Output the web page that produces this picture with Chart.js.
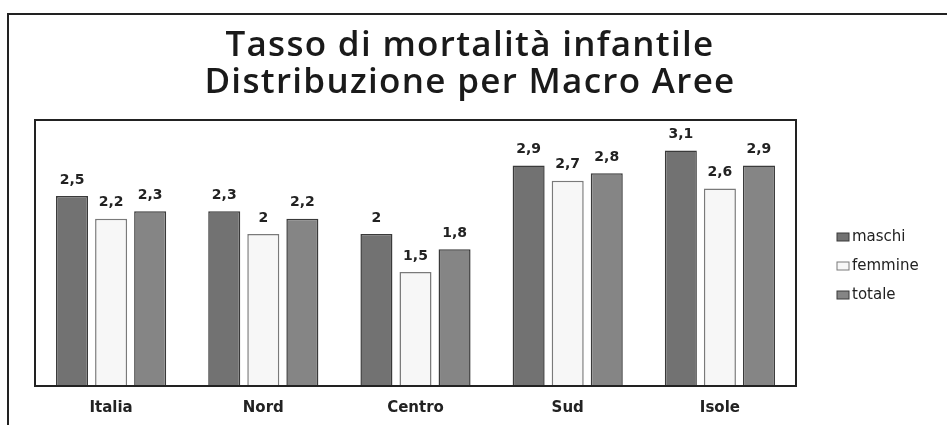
<!DOCTYPE html>
<html><head><meta charset="utf-8">
<script src="https://cdn.jsdelivr.net/npm/chart.js@4/dist/chart.umd.min.js"></script>
<style>html,body{margin:0;padding:0;background:#fff}#wrap{width:947px;height:425px}</style>
</head><body><div id="wrap"><canvas id="c" width="947" height="425"></canvas></div>
<script>
const categories = ['Italia', 'Nord', 'Centro', 'Sud', 'Isole'];
const maschi = [2.5, 2.3, 2.0, 2.9, 3.1];
const femmine = [2.2, 2.0, 1.5, 2.7, 2.6];
const totale = [2.3, 2.2, 1.8, 2.8, 2.9];
const seriesNames = ['maschi', 'femmine', 'totale'];
const titleLines = ['Tasso di mortalità infantile', 'Distribuzione per Macro Aree'];

const fills = ['#727272', '#f7f7f7', '#858585'];
const borders = ['#3a3a3a', '#7a7a7a', '#3a3a3a'];

const deco = {
  id: 'deco',
  afterDraw(chart) {
    const ctx = chart.ctx, a = chart.chartArea;
    ctx.save();
    // outer frame
    ctx.strokeStyle = '#222'; ctx.lineWidth = 2;
    ctx.beginPath(); ctx.moveTo(8, 425); ctx.lineTo(8, 14); ctx.lineTo(947, 14); ctx.stroke();
    // plot box
    ctx.lineWidth = 2; ctx.strokeStyle = '#222';
    ctx.strokeRect(a.left, a.top, a.right - a.left, a.bottom - a.top);
    // title
    ctx.fillStyle = '#1a1a1a';
    ctx.font = '600 35px "Open Sans", sans-serif';
    if ('letterSpacing' in ctx) ctx.letterSpacing = '1.3px';
    ctx.textAlign = 'center'; ctx.textBaseline = 'middle';
    ctx.fillText(titleLines[0], 470, 46);
    ctx.fillText(titleLines[1], 470, 83);
    if ('letterSpacing' in ctx) ctx.letterSpacing = '0px';
    // data labels
    ctx.font = 'bold 14px "DejaVu Sans", sans-serif';
    ctx.fillStyle = '#222'; ctx.textBaseline = 'bottom';
    chart.data.datasets.forEach((ds, di) => {
      const meta = chart.getDatasetMeta(di);
      meta.data.forEach((bar, i) => {
        ctx.fillText(String(ds.data[i]).replace('.', ','), bar.x, bar.y - 9);
      });
    });
    // legend
    ctx.font = '15px "DejaVu Sans", sans-serif';
    ctx.textAlign = 'left'; ctx.textBaseline = 'middle';
    seriesNames.forEach((n, i) => {
      const y = 237 + i * 29;
      ctx.fillStyle = fills[i]; ctx.strokeStyle = borders[i]; ctx.lineWidth = 1;
      ctx.fillRect(837, y - 4, 12, 8); ctx.strokeRect(837, y - 4, 12, 8);
      ctx.fillStyle = '#222';
      ctx.fillText(n, 852, y);
    });
    ctx.restore();
  }
};

new Chart(document.getElementById('c'), {
  type: 'bar',
  data: {
    labels: categories,
    datasets: [maschi, femmine, totale].map((d, i) => ({
      label: seriesNames[i], data: d,
      backgroundColor: fills[i], borderColor: borders[i], borderWidth: 1.5,
      barPercentage: 0.82, categoryPercentage: 0.77
    }))
  },
  options: {
    responsive: false, animation: false, devicePixelRatio: 1,
    layout: { padding: { left: 35, right: 151, top: 120, bottom: 0 } },
    plugins: { legend: { display: false }, title: { display: false }, tooltip: { enabled: false } },
    scales: {
      x: {
        afterFit(scale) { scale.height = 39; },
        grid: { display: false, drawTicks: false }, border: { display: false },
        ticks: { color: '#222', font: { size: 15, weight: '600', family: '"DejaVu Sans", sans-serif' }, padding: 13 }
      },
      y: { display: false, min: 0, max: 3.5 }
    }
  },
  plugins: [deco]
});
</script>
</body></html>
